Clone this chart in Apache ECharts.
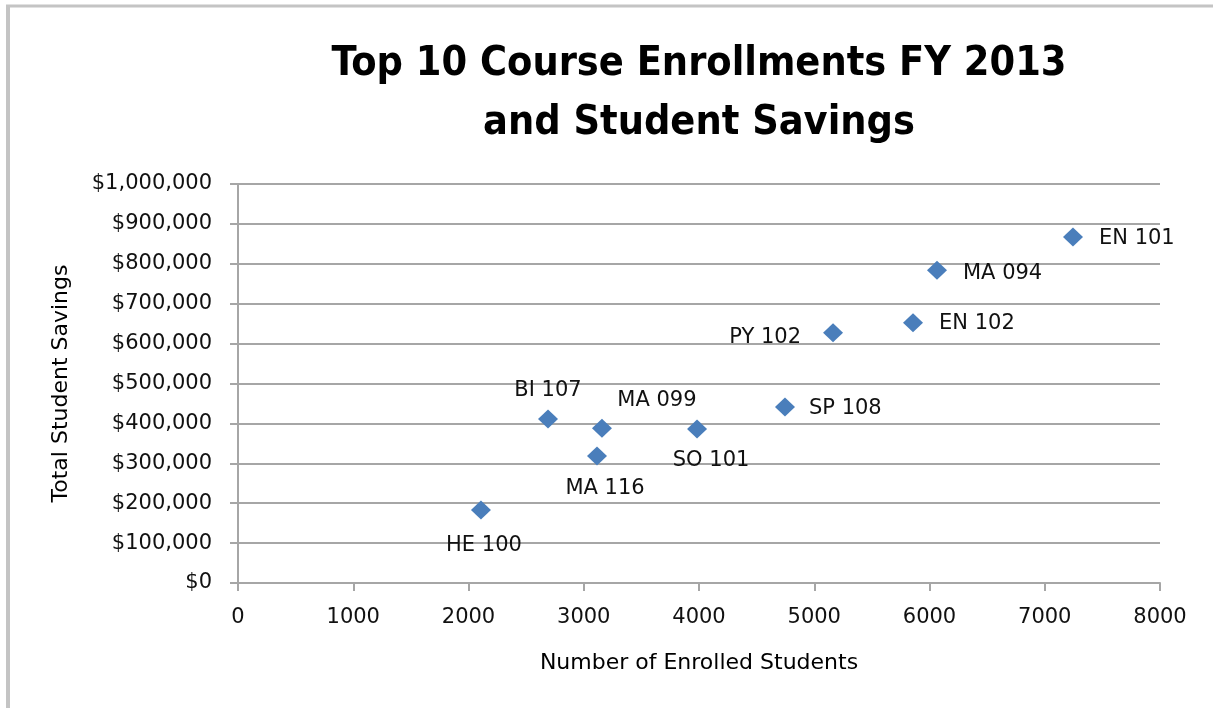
<!DOCTYPE html>
<html>
<head>
<meta charset="utf-8">
<script src="https://cdn.jsdelivr.net/npm/echarts@6/dist/echarts.min.js"></script>
<style>html,body{margin:0;padding:0;background:#fff}#c{width:1213px;height:708px}</style>
</head>
<body>
<div id="c"></div>
<script>
var courses = ['EN 101','MA 094','EN 102','PY 102','SP 108','SO 101','MA 099','BI 107','MA 116','HE 100'];
var enrolled = [7245, 6065, 5857, 5163, 4746, 3983, 3158, 2690, 3115, 2108];
var savings = [867000, 784000, 652000, 627000, 441000, 386000, 388000, 411000, 318000, 183000];
var xTicks = [0,1000,2000,3000,4000,5000,6000,7000,8000];
var yTicks = [0,100000,200000,300000,400000,500000,600000,700000,800000,900000,1000000];

var labelStyle = {
  'EN 101': {position:'right', distance:16, offset:[0,1]},
  'MA 094': {position:'right', distance:16, offset:[0,3]},
  'EN 102': {position:'right', distance:16, offset:[0,1]},
  'PY 102': {position:'left', distance:22, offset:[0,5]},
  'SP 108': {position:'right', distance:14, offset:[0,2]},
  'SO 101': {position:'bottom', distance:12, offset:[14,0]},
  'MA 099': {position:'top', distance:8, offset:[55,0]},
  'BI 107': {position:'top', distance:8, offset:[0,0]},
  'MA 116': {position:'bottom', distance:12, offset:[8,0]},
  'HE 100': {position:'bottom', distance:16, offset:[3,0]}
};

var FONT = "'DejaVu Sans', sans-serif";
var data = courses.map(function(n,i){
  return {name:n, value:[enrolled[i], savings[i]], label:labelStyle[n]};
});

var chart = echarts.init(document.getElementById('c'), null, {renderer:'canvas'});
chart.setOption({
  animation:false,
  backgroundColor:'#ffffff',
  title:{
    text:'Top 10 Course Enrollments FY 2013\nand Student Savings',
    left:694, top:30, textAlign:'center',
    textStyle:{fontFamily:"'DejaVu Sans Condensed',sans-serif", fontWeight:'bold', fontSize:41, lineHeight:59, color:'#000'}
  },
  graphic:[
    {type:'line', shape:{x1:6,y1:6,x2:1213,y2:6}, style:{stroke:'#c4c4c4', lineWidth:3}},
    {type:'line', shape:{x1:8,y1:5,x2:8,y2:708}, style:{stroke:'#c4c4c4', lineWidth:4}}
  ],
  grid:{left:238, right:53, top:184, bottom:125, containLabel:false},
  xAxis:{
    type:'value', min:0, max:8000, interval:1000,
    name:'Number of Enrolled Students', nameLocation:'middle', nameGap:69,
    nameTextStyle:{fontFamily:FONT, fontSize:22, color:'#000'},
    axisLine:{show:true, lineStyle:{color:'#a6a6a6', width:2}},
    axisTick:{show:true, length:8, lineStyle:{color:'#a6a6a6', width:2}},
    axisLabel:{fontFamily:FONT, fontSize:21, color:'#111', margin:24,
      formatter:function(v){return String(v);}},
    splitLine:{show:false}
  },
  yAxis:{
    type:'value', min:0, max:1000000, interval:100000,
    name:'Total Student Savings', nameLocation:'middle', nameGap:166, nameRotate:90,
    nameTextStyle:{fontFamily:FONT, fontSize:22, color:'#000'},
    axisLine:{show:true, lineStyle:{color:'#a6a6a6', width:2}},
    axisTick:{show:true, length:8, lineStyle:{color:'#a6a6a6', width:2}},
    axisLabel:{fontFamily:FONT, fontSize:21, color:'#111', margin:26,
      formatter:function(v){return '$' + v.toLocaleString('en-US');}},
    splitLine:{show:true, lineStyle:{color:'#a6a6a6', width:2}}
  },
  series:[{
    type:'scatter',
    symbol:'diamond',
    symbolSize:[20,19],
    itemStyle:{color:'#4a7ebb', opacity:1},
    label:{show:true, formatter:'{b}', fontFamily:FONT, fontSize:21, color:'#111'},
    data:data
  }]
});
</script>
</body>
</html>
